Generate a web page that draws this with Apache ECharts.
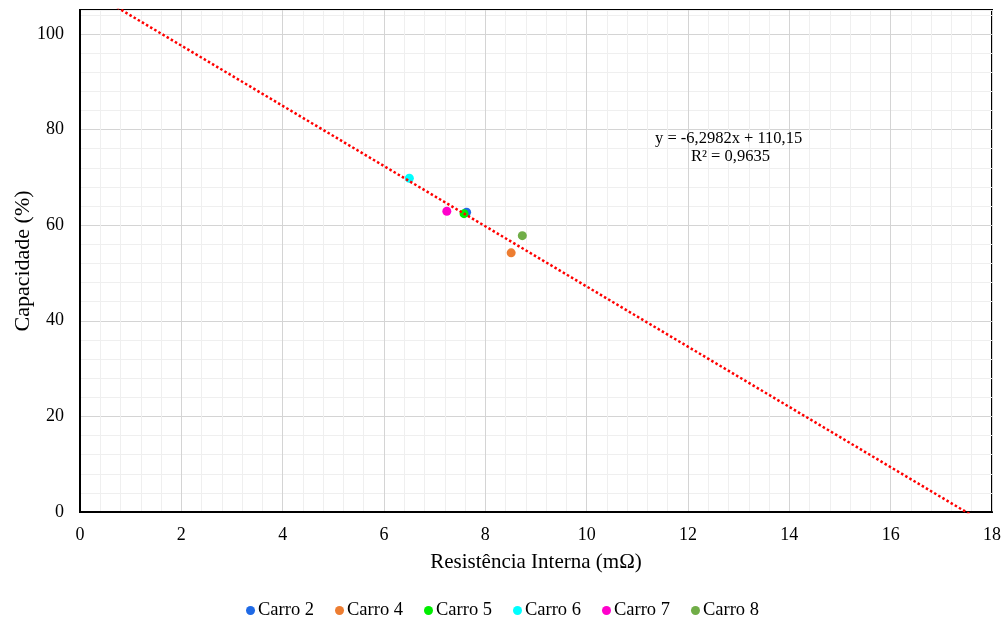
<!DOCTYPE html>
<html>
<head>
<meta charset="utf-8">
<script src="https://cdn.jsdelivr.net/npm/echarts@6/dist/echarts.min.js"></script>
<style>
  html, body { margin: 0; padding: 0; background: #fff; }
  #chart { width: 1005px; height: 621px; }
</style>
</head>
<body>
<div id="chart"></div>
<script>
const carNames = ["Carro 2", "Carro 4", "Carro 5", "Carro 6", "Carro 7", "Carro 8"]
const carColors = ["#1f6ae6", "#ed7d31", "#00ee00", "#00ffff", "#ff00cc", "#70ad47"]
// [resistencia (mOhm), capacidade (%)]
const resistance = [7.63, 8.51, 7.58, 6.50, 7.24, 8.73]
const capacity = [62.7, 54.2, 62.4, 69.8, 62.9, 57.8]

// linear trend from Excel
const slope = -6.2982
const intercept = 110.15
const trendX = [0, 18]

const font = "'Liberation Serif', 'Times New Roman', serif"
const majorGrid = "#d4d4d4"
const minorGrid = "#efefef"
const gridColors = [majorGrid, minorGrid, minorGrid, minorGrid, minorGrid]

const chart = echarts.init(document.getElementById("chart"))

const scatterSeries = carNames.map((name, i) => ({
  name: name,
  type: "scatter",
  symbol: "circle",
  symbolSize: 9,
  itemStyle: { color: carColors[i], opacity: 1 },
  data: [[resistance[i], capacity[i]]],
  z: 3,
}))

const isMultiple = (v, step) => Math.abs(v / step - Math.round(v / step)) < 1e-6

const option = {
  backgroundColor: "#fff",
  animation: false,
  textStyle: { fontFamily: font },
  grid: {
    left: 80,
    right: 13,
    top: 10,
    bottom: 109,
    outerBoundsMode: "none",
    containLabel: false,
    show: true,
    borderColor: "#000",
    borderWidth: 2,
  },
  legend: {
    top: 596,
    left: "center",
    icon: "circle",
    itemWidth: 9,
    itemHeight: 9,
    itemGap: 21,
    textStyle: { fontFamily: font, fontSize: 18.5, color: "#000", padding: [0, 0, 0, -2] },
    data: carNames,
  },
  xAxis: {
    type: "value",
    min: 0,
    max: 18,
    interval: 0.4,
    name: "Resistência Interna (mΩ)",
    nameLocation: "middle",
    nameGap: 40,
    nameMoveOverlap: false,
    nameTextStyle: { fontFamily: font, fontSize: 21, color: "#000" },
    axisLine: { show: true, lineStyle: { color: "#000", width: 2 } },
    axisTick: { show: false },
    axisLabel: {
      margin: 14,
      fontFamily: font,
      fontSize: 18,
      color: "#000",
      formatter: (v) => (isMultiple(v, 2) ? String(Math.round(v)) : ""),
    },
    splitLine: { show: true, lineStyle: { color: gridColors, width: 1 } },
  },
  yAxis: {
    type: "value",
    min: 0,
    max: 105,
    interval: 4,
    name: "Capacidade (%)",
    nameLocation: "middle",
    nameGap: 46,
    nameMoveOverlap: false,
    nameTextStyle: { fontFamily: font, fontSize: 22, color: "#000" },
    axisLine: { show: true, lineStyle: { color: "#000", width: 2 } },
    axisTick: { show: false },
    axisLabel: {
      margin: 16,
      fontFamily: font,
      fontSize: 18,
      color: "#000",
      formatter: (v) => (isMultiple(v, 20) ? String(Math.round(v)) : ""),
    },
    splitLine: { show: true, lineStyle: { color: gridColors, width: 1 } },
  },
  graphic: [
    {
      type: "text",
      left: 655,
      top: 130,
      z: 100,
      style: {
        text: "y = -6,2982x + 110,15",
        font: "16.5px " + font,
        fill: "#000",
      },
    },
    {
      type: "text",
      left: 691,
      top: 148,
      z: 100,
      style: {
        text: "R² = 0,9635",
        font: "16.5px " + font,
        fill: "#000",
      },
    },
  ],
  series: [
    ...scatterSeries,
    {
      name: "Linear",
      type: "line",
      showSymbol: false,
      clip: true,
      silent: true,
      lineStyle: { color: "#ff0000", width: 2.5, type: [2.5, 2.3], cap: "butt" },
      data: trendX.map((x) => [x, slope * x + intercept]),
      z: 4,
    },
  ],
}

chart.setOption(option)
</script>
</body>
</html>
